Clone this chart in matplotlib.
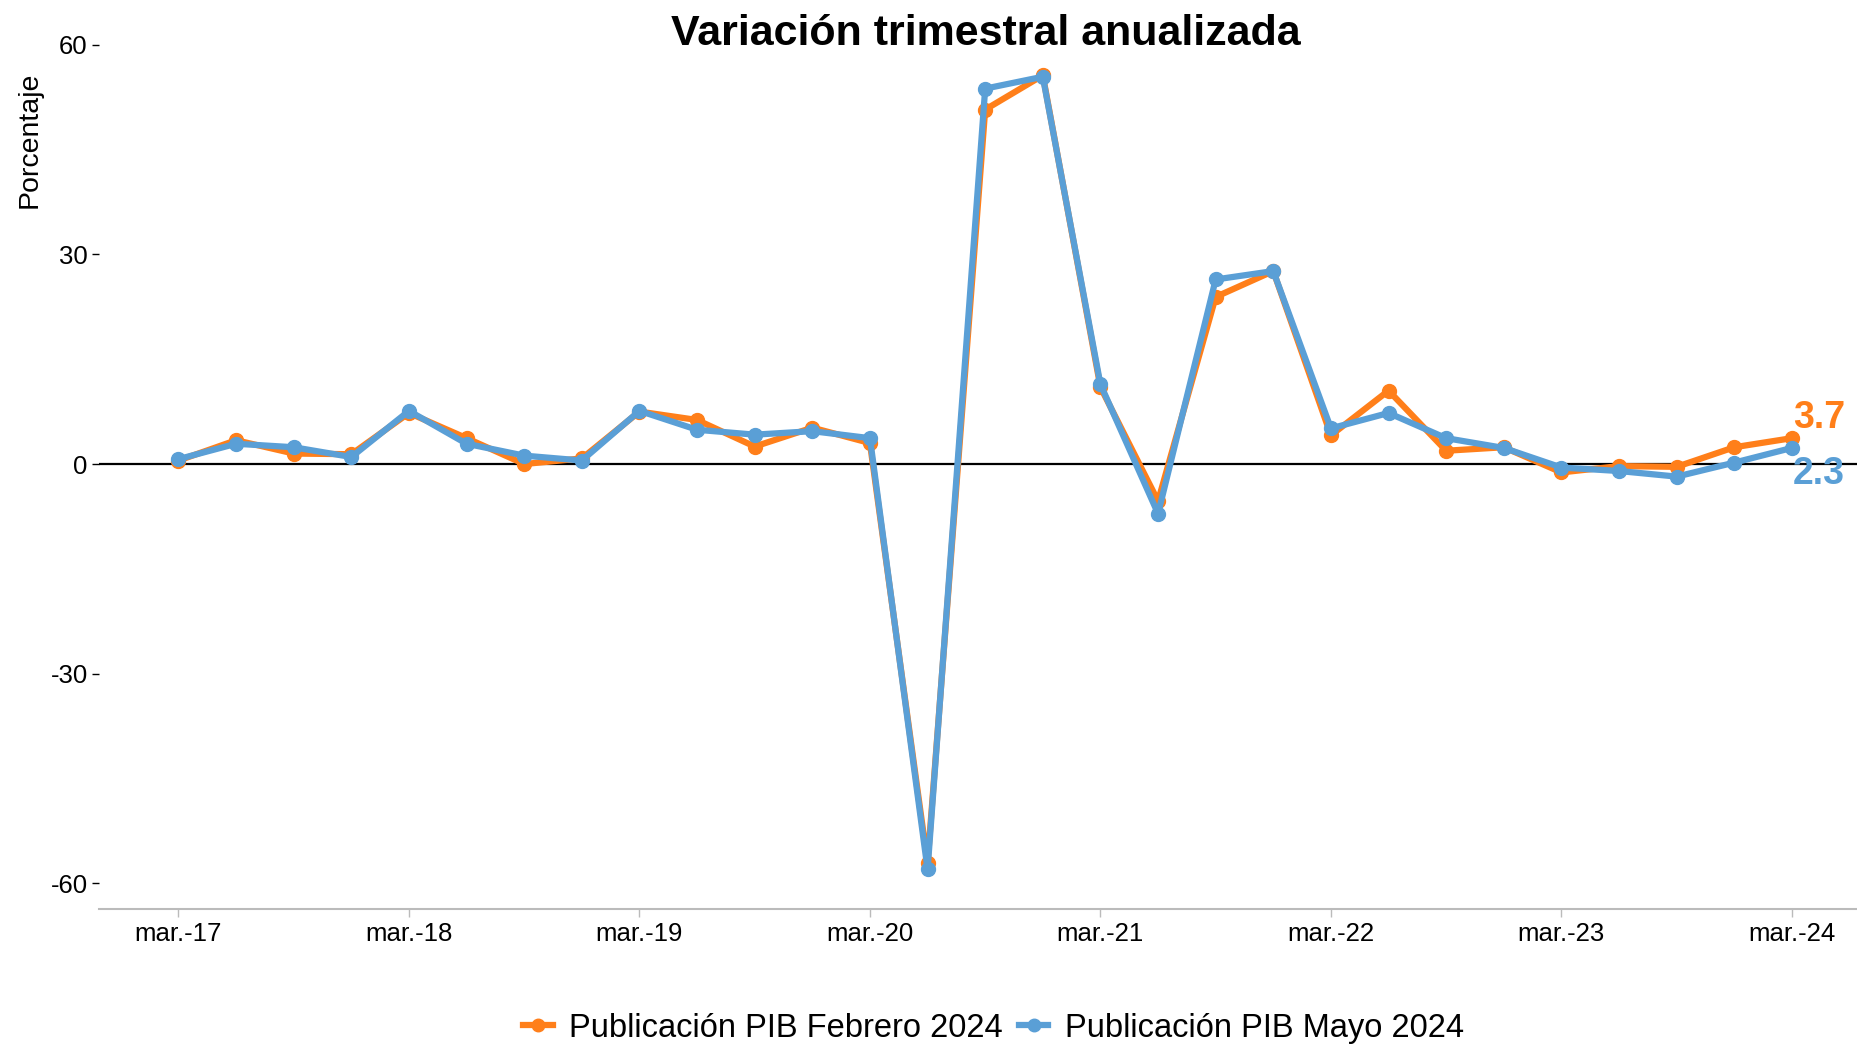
import matplotlib
matplotlib.use("Agg")
import matplotlib.pyplot as plt

plt.rcParams['font.family'] = ['Liberation Sans', 'DejaVu Sans']
plt.rcParams['axes.unicode_minus'] = False

# trimestres mar-17 .. mar-24
trimestres = list(range(29))
feb_2024 = [0.5, 3.4, 1.5, 1.4, 7.3, 3.7, 0.0, 0.8, 7.5, 6.3, 2.5, 5.2, 3.0,
            -57.1, 50.7, 55.6, 11.0, -5.3, 23.9, 27.6, 4.1, 10.5, 1.9, 2.4,
            -1.2, -0.3, -0.4, 2.4, 3.7]
may_2024 = [0.7, 2.9, 2.4, 1.0, 7.6, 2.9, 1.2, 0.5, 7.6, 4.9, 4.2, 4.7, 3.7,
            -58.0, 53.7, 55.4, 11.4, -7.1, 26.4, 27.6, 5.1, 7.3, 3.7, 2.3,
            -0.5, -1.0, -1.8, 0.2, 2.3]
xtick_pos = [0, 4, 8, 12, 16, 20, 24, 28]
xtick_lab = ["mar.-17", "mar.-18", "mar.-19", "mar.-20", "mar.-21",
             "mar.-22", "mar.-23", "mar.-24"]
ytick_vals = [-60, -30, 0, 30, 60]

naranja = "#FF7F1A"
azul = "#5A9FD6"

fig = plt.figure(figsize=(18.57, 10.44), dpi=100)
ax = fig.add_axes([0.0533, 0.129, 0.9467, 0.837])

ax.axhline(0, color="black", lw=1.6, zorder=1)
ax.plot(trimestres, feb_2024, color=naranja, lw=4.5, marker="o", ms=10,
        label="Publicación PIB Febrero 2024", zorder=2)
ax.plot(trimestres, may_2024, color=azul, lw=4.5, marker="o", ms=10,
        label="Publicación PIB Mayo 2024", zorder=3)

ax.text(28.47, feb_2024[-1] + 2.9, f"{feb_2024[-1]}", color=naranja,
        fontsize=27, fontweight="bold", ha="center", va="center")
ax.text(28.47, may_2024[-1] - 3.7, f"{may_2024[-1]}", color=azul,
        fontsize=27, fontweight="bold", ha="center", va="center")

ax.set_xlim(-1.38, 29.13)
ax.set_ylim(-63.7, 61.3)
ax.set_xticks(xtick_pos)
ax.set_xticklabels(xtick_lab, fontsize=18.5)
ax.set_yticks(ytick_vals)
ax.set_yticklabels([str(v) for v in ytick_vals], fontsize=18.5)
ax.tick_params(axis="y", length=5, width=1, color="black", pad=3)
ax.tick_params(axis="x", length=6, width=1, color="#BBBBBB", pad=3)

for s in ["top", "right", "left"]:
    ax.spines[s].set_visible(False)
ax.spines["bottom"].set_color("#BBBBBB")
ax.spines["bottom"].set_linewidth(1.5)

fig.text(0.531, 0.967, "Variación trimestral anualizada", ha="center",
         va="center", fontsize=31, fontweight="bold")
fig.text(0.016, 0.866, "Porcentaje", rotation=90, ha="center", va="center",
         fontsize=20.5)

fig.legend(loc="center", bbox_to_anchor=(0.535, 0.015), ncol=2, frameon=False,
           fontsize=23.5, handlelength=0.9, columnspacing=0.5,
           handletextpad=0.5, markerscale=0.9)

fig.savefig("out.png", dpi=100)
